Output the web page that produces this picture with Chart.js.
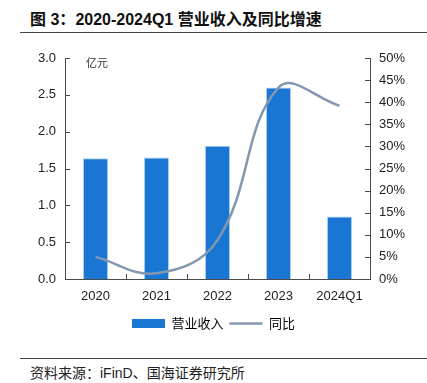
<!DOCTYPE html>
<html>
<head>
<meta charset="utf-8">
<script src="https://cdn.jsdelivr.net/npm/chart.js@4"></script>
<style>
  html, body { margin: 0; padding: 0; background: #fff; }
  #wrap { position: relative; width: 427px; height: 383px; overflow: hidden; }
  #title { position: absolute; left: 30px; top: 6px; font: bold 16px "Liberation Sans", "Noto Sans CJK SC", sans-serif; color: #111; white-space: nowrap; }
  #title .cjk { font-family: "Noto Sans CJK SC", sans-serif; }
  #rule1 { position: absolute; left: 20px; right: 0; top: 32px; border-top: 1.5px solid #444; }
  #rule2 { position: absolute; left: 20px; right: 0; top: 358px; border-top: 1px solid #444; }
  #source { position: absolute; left: 30px; top: 362px; font: 14px "Noto Sans CJK SC", sans-serif; color: #222; white-space: nowrap; }
  #source .lat { font-family: "Liberation Sans", sans-serif; font-size: 14px; }
  canvas { position: absolute; left: 0; top: 0; }
</style>
</head>
<body>
<div id="wrap">
  <div id="title"><span class="cjk">图</span> 3<span class="cjk">：</span>2020-2024Q1 <span class="cjk">营业收入及同比增速</span></div>
  <div id="rule1"></div>
  <canvas id="chart" width="427" height="340"></canvas>
  <div id="rule2"></div>
  <div id="source">资料来源：<span class="lat">iFinD</span>、国海证券研究所</div>
</div>
<script>
const years = ['2020', '2021', '2022', '2023', '2024Q1'];
const revenue = [1.64, 1.65, 1.81, 2.60, 0.85];      // 亿元
const yoyGrowth = [5.0, 1.3, 8.8, 43.3, 39.2];      // %
const leftTicks = [0, 0.5, 1.0, 1.5, 2.0, 2.5, 3.0];
const rightTicks = [0, 5, 10, 15, 20, 25, 30, 35, 40, 45, 50];

const axisColor = '#4a4a4a';
const tickFont = { family: '"Liberation Sans", Arial, sans-serif', size: 13 };

// short tick marks pointing into the plot, like the source chart
const innerTicks = {
    id: 'innerTicks',
    afterDraw(chart) {
        const ctx = chart.ctx;
        const area = chart.chartArea;
        const x = chart.scales.x, yl = chart.scales.y, yr = chart.scales.y1;
        ctx.save();
        ctx.strokeStyle = axisColor;
        ctx.lineWidth = 1;
        ctx.beginPath();
        leftTicks.forEach(v => {
            const py = Math.round(yl.getPixelForValue(v)) + 0.5;
            ctx.moveTo(area.left, py); ctx.lineTo(area.left + 5, py);
        });
        rightTicks.forEach(v => {
            const py = Math.round(yr.getPixelForValue(v)) + 0.5;
            ctx.moveTo(area.right - 5, py); ctx.lineTo(area.right, py);
        });
        for (let i = 0; i < years.length - 1; i++) {
            const px = Math.round((x.getPixelForValue(i) + x.getPixelForValue(i + 1)) / 2) + 0.5;
            ctx.moveTo(px, area.bottom); ctx.lineTo(px, area.bottom - 5);
        }
        ctx.stroke();
        // unit label
        ctx.fillStyle = '#333';
        ctx.font = '11px "Noto Sans CJK SC", sans-serif';
        ctx.textBaseline = 'middle';
        ctx.fillText('亿元', area.left + 21, area.top + 5);
        ctx.restore();
    }
};

new Chart(document.getElementById('chart'), {
    data: {
        labels: years,
        datasets: [
            {
                type: 'line',
                label: '同比',
                data: yoyGrowth,
                yAxisID: 'y1',
                borderColor: '#8497b0',
                backgroundColor: '#8497b0',
                borderWidth: 2.5,
                pointRadius: 0,
                tension: 0.4,
                order: 0
            },
            {
                type: 'bar',
                label: '营业收入',
                data: revenue,
                yAxisID: 'y',
                backgroundColor: '#1976d2',
                borderColor: '#a9cdef',
                borderWidth: { top: 1, left: 1, right: 1, bottom: 0 },
                barPercentage: 0.41,
                categoryPercentage: 1.0,
                order: 1
            }
        ]
    },
    options: {
        responsive: false,
        animation: false,
        layout: { padding: { top: 58, left: 0, right: 0, bottom: 0 } },
        plugins: {
            tooltip: { enabled: false },
            legend: {
                position: 'bottom',
                reverse: true,
                labels: {
                    font: { family: '"Noto Sans CJK SC", sans-serif', size: 13 },
                    color: '#333',
                    usePointStyle: true,
                    pointStyleWidth: 33,
                    boxHeight: 9,
                    padding: 6,
                    generateLabels(chart) {
                        return chart.data.datasets.map((ds, i) => ({
                            text: ds.label,
                            fillStyle: ds.type === 'bar' ? ds.backgroundColor : ds.borderColor,
                            strokeStyle: ds.type === 'bar' ? ds.backgroundColor : ds.borderColor,
                            lineWidth: ds.type === 'bar' ? 0 : 2.5,
                            pointStyle: ds.type === 'bar' ? 'rect' : 'line',
                            datasetIndex: i,
                            hidden: false
                        }));
                    }
                }
            }
        },
        scales: {
            x: {
                grid: { display: false, drawTicks: false },
                border: { color: axisColor, width: 1 },
                ticks: { font: tickFont, color: '#222', padding: 10 },
                afterFit(scale) { scale.height = 32; }
            },
            y: {
                position: 'left',
                min: 0, max: 3,
                afterBuildTicks(scale) { scale.ticks = leftTicks.map(v => ({ value: v })); },
                grid: { display: false, drawTicks: false },
                border: { color: axisColor, width: 1 },
                ticks: { font: tickFont, color: '#222', padding: 9, callback: v => v.toFixed(1) },
                afterFit(scale) { scale.width = 65; }
            },
            y1: {
                position: 'right',
                min: 0, max: 50,
                afterBuildTicks(scale) { scale.ticks = rightTicks.map(v => ({ value: v })); },
                grid: { display: false, drawTicks: false },
                border: { color: axisColor, width: 1 },
                ticks: { font: tickFont, color: '#222', padding: 9, callback: v => v + '%' },
                afterFit(scale) { scale.width = 57; }
            }
        }
    },
    plugins: [innerTicks]
});
</script>
</body>
</html>
